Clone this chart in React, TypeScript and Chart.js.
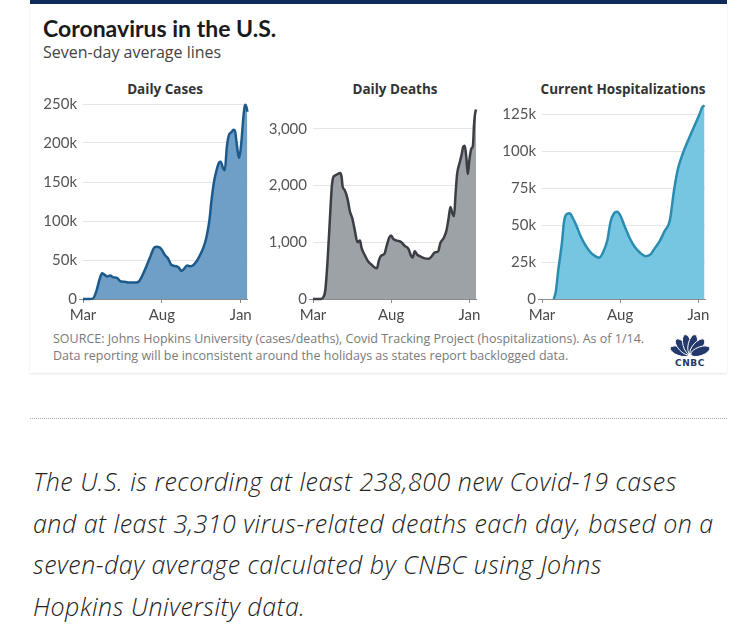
import React, { useEffect, useRef } from "react";
import { Chart, registerables } from "chart.js";

Chart.register(...registerables);

const FONT = "Lato, 'Open Sans', sans-serif";
const FONT2 = "'Open Sans', Lato, sans-serif";

// x axis: days since Mar 1, 2020
const xTickDays = [0, 153, 306];
const xTickLabels = ["Mar", "Aug", "Jan"];
const lastDay = 319;

// Daily cases (seven-day average)
const caseDays = [0, 12, 19, 26, 32, 37, 42, 47, 53, 58, 66, 72, 81, 90, 103, 109, 115, 123, 131, 137, 142, 149, 154, 159, 165, 171, 181, 186, 191, 195, 202, 207, 213, 220, 226, 233, 239, 245, 249, 254, 259, 264, 267, 272, 275, 279, 283, 288, 292, 295, 297, 301, 303, 307, 310, 313, 315, 317, 319];
const caseValues = [0, 0, 500, 10000, 25000, 33000, 31000, 29000, 30000, 28000, 27000, 23000, 22000, 21000, 21000, 23000, 30000, 42000, 55000, 65000, 67000, 66000, 62000, 56000, 52000, 44000, 42000, 40000, 36000, 38000, 43000, 42000, 43000, 48000, 55000, 65000, 78000, 100000, 125000, 150000, 165000, 175000, 176000, 167000, 165000, 195000, 210000, 214000, 217000, 215000, 205000, 185000, 181000, 200000, 225000, 245000, 249000, 246000, 240000];
const caseTicks = [0, 50000, 100000, 150000, 200000, 250000];
const caseTickLabels = ["0", "50k", "100k", "150k", "200k", "250k"];

// Daily deaths (seven-day average)
const deathDays = [0, 16, 20, 24, 28, 33, 37, 40, 44, 48, 53, 56, 58, 62, 68, 72, 77, 82, 87, 92, 95, 102, 108, 115, 120, 125, 129, 133, 140, 144, 149, 153, 157, 164, 173, 179, 187, 192, 195, 199, 204, 210, 217, 227, 233, 238, 245, 249, 256, 261, 265, 269, 273, 276, 279, 282, 287, 291, 294, 297, 300, 303, 306, 310, 313, 315, 317, 319];
const deathValues = [0, 0, 30, 150, 600, 1400, 2000, 2150, 2180, 2200, 2220, 2150, 1980, 1920, 1750, 1550, 1420, 1200, 1000, 1030, 900, 760, 660, 600, 560, 540, 680, 760, 800, 930, 1080, 1120, 1060, 1030, 1000, 940, 880, 760, 730, 840, 780, 750, 720, 710, 760, 820, 840, 980, 1080, 1200, 1400, 1620, 1500, 1460, 1850, 2200, 2400, 2550, 2680, 2700, 2500, 2200, 2450, 2650, 2700, 3050, 3250, 3340];
const deathTicks = [0, 1000, 2000, 3000];
const deathTickLabels = ["0", "1,000", "2,000", "3,000"];

// Current hospitalizations
const hospDays = [23, 27, 32, 39, 43, 47, 54, 60, 67, 75, 84, 94, 104, 112, 120, 128, 134, 141, 147, 154, 162, 172, 182, 193, 203, 212, 220, 230, 240, 250, 259, 266, 275, 288, 298, 307, 314, 318];
const hospValues = [0, 5000, 20000, 38000, 52000, 57000, 58000, 55000, 50000, 43000, 37000, 32000, 29000, 28000, 32000, 40000, 52000, 58000, 59000, 56000, 49000, 41000, 35000, 31000, 29000, 30000, 34000, 39000, 46000, 53000, 75000, 88000, 98000, 109000, 117000, 124000, 130000, 131000];
const hospTicks = [0, 25000, 50000, 75000, 100000, 125000];
const hospTickLabels = ["0", "25k", "50k", "75k", "100k", "125k"];

type PanelProps = {
  left: number;
  padTop: number;
  padRight: number;
  days: number[];
  values: number[];
  ticks: number[];
  tickLabels: string[];
  yMax: number;
  line: string;
  fill: string;
};

function Panel(p: PanelProps) {
  const ref = useRef<HTMLCanvasElement | null>(null);
  useEffect(() => {
    if (!ref.current) return;
    const axisGray = "#8c8c8c";
    const chart = new Chart(ref.current, {
      type: "line",
      data: {
        datasets: [
          {
            data: p.days.map((d, i) => ({ x: d, y: p.values[i] })),
            borderColor: p.line,
            backgroundColor: p.fill,
            fill: "origin",
            borderWidth: 2.5,
            pointRadius: 0,
            cubicInterpolationMode: "monotone",
            borderJoinStyle: "round",
            clip: false,
          } as any,
        ],
      },
      options: {
        animation: false,
        responsive: false,
        maintainAspectRatio: false,
        layout: { padding: { top: p.padTop, right: p.padRight, left: 0, bottom: 0 } },
        plugins: {
          legend: { display: false },
          tooltip: { enabled: false },
          title: { display: false },
        },
        scales: {
          x: {
            type: "linear",
            min: 0,
            max: lastDay,
            afterBuildTicks: (s: any) => {
              s.ticks = xTickDays.map((v) => ({ value: v }));
            },
            afterFit: (s: any) => {
              s.height = 31;
            },
            ticks: {
              autoSkip: false,
              maxRotation: 0,
              padding: 3,
              color: "#4a4a4a",
              font: { family: FONT, size: 15 },
              callback: (v: any) => xTickLabels[xTickDays.indexOf(Number(v))] ?? "",
            },
            grid: { drawOnChartArea: false, color: axisGray, tickLength: 4 },
            border: { color: axisGray, width: 1 },
          },
          y: {
            type: "linear",
            min: 0,
            max: p.yMax,
            afterBuildTicks: (s: any) => {
              s.ticks = p.ticks.map((v) => ({ value: v }));
            },
            afterFit: (s: any) => {
              s.width = 53;
            },
            ticks: {
              padding: 2,
              color: "#555555",
              font: { family: FONT, size: 15 },
              callback: (v: any) => p.tickLabels[p.ticks.indexOf(Number(v))] ?? "",
            },
            grid: {
              color: (c: any) => (c.tick && c.tick.value === 0 ? "rgba(0,0,0,0)" : "#e6e6e6"),
              tickColor: (c: any) => (c.tick && c.tick.value === 0 ? axisGray : "rgba(0,0,0,0)"),
              tickLength: 4,
              lineWidth: 1,
            },
            border: { display: false },
          },
        },
      } as any,
    });
    return () => chart.destroy();
  }, []);
  return (
    <canvas
      ref={ref}
      width={225}
      height={250}
      style={{ position: "absolute", left: p.left, top: 80, width: 225, height: 250 }}
    />
  );
}

function Logo() {
  const angles = [-70, -42, -14, 14, 42, 70];
  return (
    <svg width={42} height={36} style={{ position: "absolute", left: 669, top: 333 }}>
      {angles.map((a, i) => (
        <ellipse
          key={i}
          cx={21}
          cy={11}
          rx={4.4}
          ry={10}
          fill="#23396b"
          stroke="#ffffff"
          strokeWidth={0.9}
          transform={`rotate(${a} 21 22)`}
        />
      ))}
      <text
        x={21}
        y={33}
        textAnchor="middle"
        fontFamily="'DejaVu Sans', sans-serif"
        fontWeight="bold"
        fontSize={9}
        letterSpacing={0.6}
        fill="#23396b"
      >
        CNBC
      </text>
    </svg>
  );
}

export default function App() {
  const panelTitle: React.CSSProperties = {
    position: "absolute",
    top: 81,
    width: 200,
    textAlign: "center",
    fontFamily: FONT2,
    fontWeight: 700,
    fontSize: 13.5,
    lineHeight: "16px",
    color: "#333333",
    whiteSpace: "nowrap",
  };
  return (
    <div style={{ position: "absolute", left: 0, top: 0, width: 750, height: 636, background: "#ffffff", overflow: "hidden" }}>
      <div
        style={{
          position: "absolute",
          left: 30,
          top: 0,
          width: 697,
          height: 373,
          background: "#ffffff",
          boxShadow: "0 1px 2px rgba(0,0,0,0.10)",
        }}
      />
      <div style={{ position: "absolute", left: 30, top: 0, width: 697, height: 4, background: "#0f2b5b" }} />
      <div
        style={{
          position: "absolute",
          left: 43,
          top: 15,
          fontFamily: FONT,
          fontWeight: 700,
          fontSize: 23,
          lineHeight: "26px",
          color: "#1a1a1a",
          whiteSpace: "nowrap",
        }}
      >
        Coronavirus in the U.S.
      </div>
      <div
        style={{
          position: "absolute",
          left: 43,
          top: 42,
          fontFamily: FONT2,
          fontSize: 16,
          lineHeight: "20px",
          color: "#444444",
          whiteSpace: "nowrap",
        }}
      >
        Seven-day average lines
      </div>
      <div style={{ ...panelTitle, left: 65 }}>Daily Cases</div>
      <div style={{ ...panelTitle, left: 295 }}>Daily Deaths</div>
      <div style={{ ...panelTitle, left: 523 }}>Current Hospitalizations</div>

      <Panel left={30} padTop={24} padRight={7} days={caseDays} values={caseValues} ticks={caseTicks} tickLabels={caseTickLabels} yMax={250000} line="#1d5a8c" fill="#6f9fc7" />
      <Panel left={260} padTop={26} padRight={9} days={deathDays} values={deathValues} ticks={deathTicks} tickLabels={deathTickLabels} yMax={3400} line="#3b3f45" fill="#9da2a7" />
      <Panel left={489} padTop={24} padRight={9} days={hospDays} values={hospValues} ticks={hospTicks} tickLabels={hospTickLabels} yMax={132000} line="#2a8db0" fill="#76c5e1" />

      <div
        style={{
          position: "absolute",
          left: 53,
          top: 331,
          fontFamily: FONT2,
          fontSize: 12.5,
          lineHeight: "16.5px",
          color: "#7a7a7a",
          whiteSpace: "nowrap",
        }}
      >
        SOURCE: Johns Hopkins University (cases/deaths), Covid Tracking Project (hospitalizations). As of 1/14.
        <br />
        Data reporting will be inconsistent around the holidays as states report backlogged data.
      </div>
      <Logo />

      <div style={{ position: "absolute", left: 30, top: 418, width: 697, height: 0, borderTop: "1px dotted #a8a8a8" }} />

      <div
        style={{
          position: "absolute",
          left: 33,
          top: 461,
          fontFamily: FONT2,
          fontStyle: "italic",
          fontWeight: 300,
          fontSize: 25,
          letterSpacing: 0.5,
          lineHeight: "41.5px",
          color: "#222222",
          whiteSpace: "nowrap",
        }}
      >
        The U.S. is recording at least 238,800 new Covid-19 cases
        <br />
        and at least 3,310 virus-related deaths each day, based on a
        <br />
        seven-day average calculated by CNBC using Johns
        <br />
        Hopkins University data.
      </div>
    </div>
  );
}
